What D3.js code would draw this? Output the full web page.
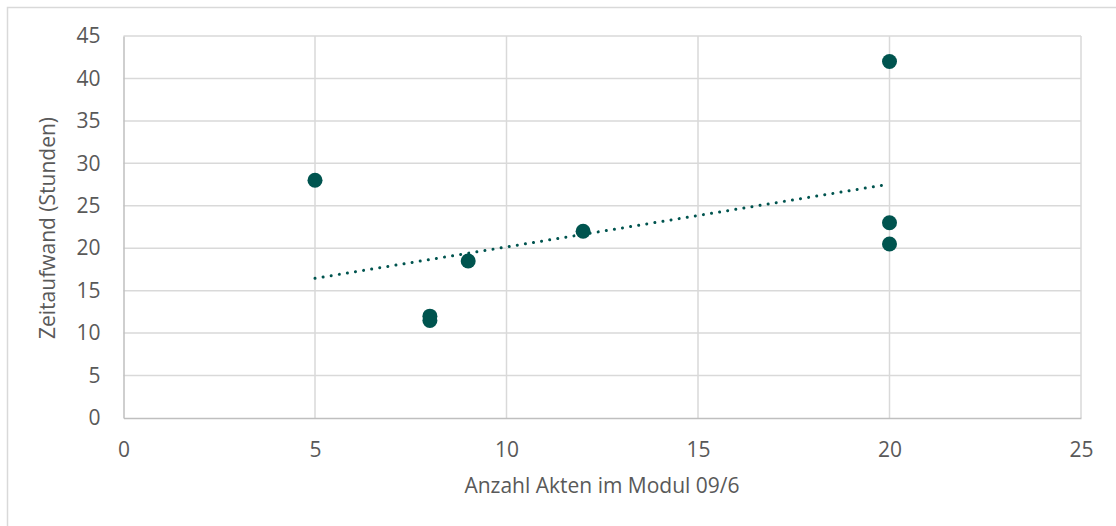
<!DOCTYPE html>
<meta charset="utf-8">
<style>
  body { margin: 0; background: #fff; }
  svg { font-family: "Open Sans", "Noto Sans", sans-serif; }
  .tick text { fill: #595959; font-size: 21px; font-family: "Open Sans", "Noto Sans", sans-serif; }
  .grid line { stroke: #d9d9d9; stroke-width: 1.5; }
  .label { fill: #595959; font-size: 21px; }
</style>
<svg width="1116" height="526"></svg>
<script src="https://d3js.org/d3.v7.min.js"></script>
<script>
var width = 1116, height = 526;

// data
var akten   = [5, 8, 8, 9, 12, 20, 20, 20];
var stunden = [28, 12, 11.5, 18.5, 22, 42, 23, 20.5];
var xTicks = [0, 5, 10, 15, 20, 25];
var yTicks = [0, 5, 10, 15, 20, 25, 30, 35, 40, 45];

var svg = d3.select("svg");

// outer chart border
svg.append("rect")
    .attr("x", 7.5).attr("y", 7.5)
    .attr("width", width).attr("height", height)
    .attr("fill", "#fff")
    .attr("stroke", "#d9d9d9")
    .attr("stroke-width", 1.5);

var x = d3.scaleLinear().domain([0, 25]).range([123.5, 1081]);
var y = d3.scaleLinear().domain([0, 45]).range([418, 36]);

// gridlines
var grid = svg.append("g").attr("class", "grid");
grid.selectAll(".h").data(yTicks.slice(1)).enter().append("line")
    .attr("x1", x(0)).attr("x2", x(25))
    .attr("y1", function(d) { return y(d); })
    .attr("y2", function(d) { return y(d); });
grid.selectAll(".v").data(xTicks.slice(1)).enter().append("line")
    .attr("y1", y(0)).attr("y2", y(45))
    .attr("x1", function(d) { return x(d); })
    .attr("x2", function(d) { return x(d); });

// axes
var xAxis = svg.append("g")
    .attr("transform", "translate(0," + y(0) + ")")
    .call(d3.axisBottom(x).tickValues(xTicks).tickSize(0).tickPadding(24));
xAxis.select(".domain").attr("stroke", "#bfbfbf").attr("stroke-width", 1.5);

var yAxis = svg.append("g")
    .attr("transform", "translate(" + x(0) + ",0)")
    .call(d3.axisLeft(y).tickValues(yTicks).tickSize(0).tickPadding(23));
yAxis.select(".domain").attr("stroke", "#bfbfbf").attr("stroke-width", 1.5);

// linear trendline (least squares)
var n = akten.length;
var mx = d3.mean(akten), my = d3.mean(stunden);
var sxy = 0, sxx = 0;
for (var i = 0; i < n; i++) {
  sxy += (akten[i] - mx) * (stunden[i] - my);
  sxx += (akten[i] - mx) * (akten[i] - mx);
}
var slope = sxy / sxx, icpt = my - slope * mx;
var x0 = d3.min(akten), x1 = d3.max(akten);

var tx1 = x(x0), ty1 = y(icpt + slope * x0);
var tx2 = x(x1), ty2 = y(icpt + slope * x1);
var len = Math.hypot(tx2 - tx1, ty2 - ty1);
var step = len / Math.round(len / 8.2);   // so a dot lands on both ends

svg.append("line")
    .attr("x1", tx1).attr("y1", ty1)
    .attr("x2", tx2).attr("y2", ty2)
    .attr("stroke", "#00544f")
    .attr("stroke-width", 3)
    .attr("stroke-linecap", "round")
    .attr("stroke-dasharray", "0.01 " + (step - 0.01));

// points
svg.append("g").selectAll("circle")
    .data(akten).enter().append("circle")
    .attr("cx", function(d) { return x(d); })
    .attr("cy", function(d, i) { return y(stunden[i]); })
    .attr("r", 7.5)
    .attr("fill", "#00544f");

// axis titles
svg.append("text").attr("class", "label")
    .attr("x", 602).attr("y", 493)
    .attr("text-anchor", "middle")
    .text("Anzahl Akten im Modul 09/6");

svg.append("text").attr("class", "label")
    .attr("transform", "translate(55,228) rotate(-90)")
    .attr("text-anchor", "middle")
    .text("Zeitaufwand (Stunden)");
</script>
